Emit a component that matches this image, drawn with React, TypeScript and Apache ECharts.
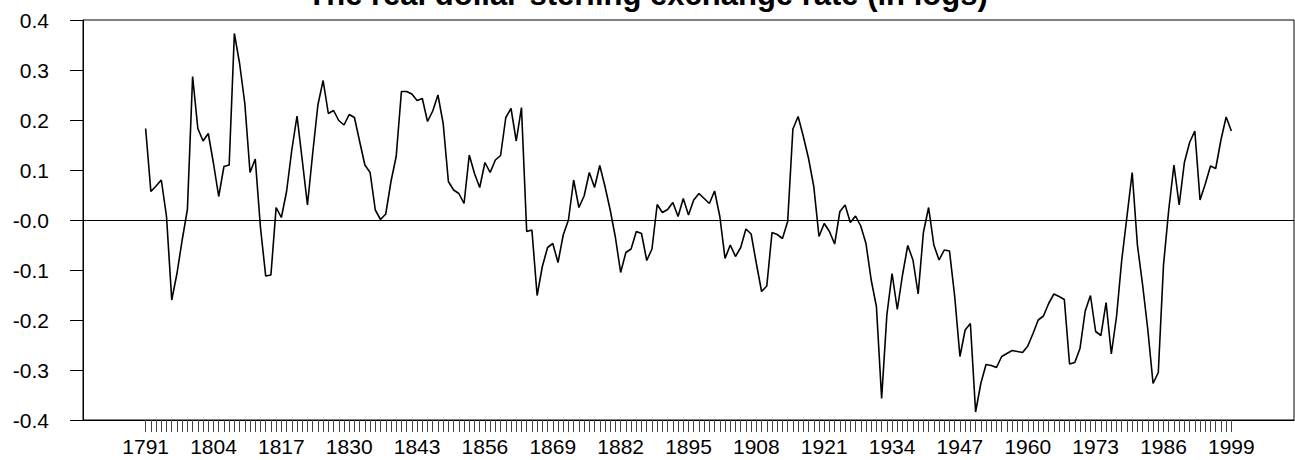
import React, { useEffect, useRef } from "react";
import * as echarts from "echarts";

const firstYear = 1791;
const lastYear = 1999;
const padYears = 12;

const rates: number[] = [
  // 1791-1800
  0.183, 0.057, 0.068, 0.08, 0.007, -0.16, -0.107, -0.04, 0.021, 0.287,
  // 1801-1810
  0.183, 0.158, 0.173, 0.113, 0.047, 0.107, 0.11, 0.373, 0.313, 0.233,
  // 1811-1820
  0.095, 0.122, -0.015, -0.112, -0.11, 0.025, 0.005, 0.057, 0.14, 0.208,
  // 1821-1830
  0.12, 0.03, 0.133, 0.23, 0.279, 0.213, 0.219, 0.199, 0.19, 0.211,
  // 1831-1840
  0.205, 0.157, 0.11, 0.095, 0.02, 0.001, 0.012, 0.077, 0.127, 0.257,
  // 1841-1850
  0.257, 0.252, 0.239, 0.243, 0.197, 0.218, 0.25, 0.193, 0.077, 0.06,
  // 1851-1860
  0.053, 0.033, 0.13, 0.093, 0.065, 0.115, 0.095, 0.12, 0.129, 0.205,
  // 1861-1870
  0.223, 0.158, 0.225, -0.023, -0.02, -0.151, -0.093, -0.055, -0.047, -0.085,
  // 1871-1880
  -0.03, 0.0, 0.08, 0.025, 0.048, 0.095, 0.065, 0.109, 0.067, 0.02,
  // 1881-1890
  -0.035, -0.105, -0.065, -0.058, -0.023, -0.027, -0.081, -0.058, 0.031, 0.015,
  // 1891-1900
  0.021, 0.035, 0.007, 0.043, 0.01, 0.04, 0.053, 0.043, 0.033, 0.058,
  // 1901-1910
  0.007, -0.077, -0.05, -0.073, -0.055, -0.018, -0.028, -0.087, -0.143, -0.132,
  // 1911-1920
  -0.025, -0.029, -0.037, -0.003, 0.182, 0.207, 0.167, 0.123, 0.067, -0.033,
  // 1921-1930
  -0.007, -0.023, -0.048, 0.017, 0.03, -0.005, 0.008, -0.012, -0.047, -0.12,
  // 1931-1940
  -0.173, -0.357, -0.19, -0.107, -0.179, -0.11, -0.051, -0.08, -0.148, -0.025,
  // 1941-1950
  0.025, -0.05, -0.08, -0.06, -0.062, -0.153, -0.273, -0.22, -0.207, -0.384,
  // 1951-1960
  -0.327, -0.289, -0.291, -0.295, -0.273, -0.267, -0.261, -0.263, -0.265, -0.252,
  // 1961-1970
  -0.227, -0.2, -0.192, -0.167, -0.148, -0.153, -0.159, -0.288, -0.285, -0.257,
  // 1971-1980
  -0.182, -0.151, -0.223, -0.231, -0.165, -0.268, -0.193, -0.08, 0.007, 0.095,
  // 1981-1990
  -0.05, -0.13, -0.22, -0.327, -0.305, -0.09, 0.02, 0.11, 0.03, 0.115,
  // 1991-1999
  0.155, 0.178, 0.04, 0.072, 0.108, 0.103, 0.16, 0.206, 0.178,
];

const yTickLabels = ["-0.4", "-0.3", "-0.2", "-0.1", "-0.0", "0.1", "0.2", "0.3", "0.4"];
const labelStep = 13;

const categories: string[] = [];
for (let y = firstYear - padYears; y <= lastYear + padYears; y++) categories.push(String(y));

export default function App() {
  const ref = useRef<HTMLDivElement>(null);
  useEffect(() => {
    if (!ref.current) return;
    const chart = echarts.init(ref.current, null, { renderer: "svg" });
    const seriesData = categories.map((c) => {
      const y = Number(c);
      if (y < firstYear || y > lastYear) return null;
      return rates[y - firstYear];
    });
    const font = "'Liberation Sans', Arial, sans-serif";
    chart.setOption({
      animation: false,
      backgroundColor: "#fff",
      title: {
        text: "The real dollar-sterling exchange rate (in logs)",
        left: "center",
        top: -21,
        padding: 0,
        textStyle: { fontFamily: font, fontSize: 31, fontWeight: "bold", color: "#000" },
      },
      grid: {
        left: 83,
        right: 1,
        top: 20,
        bottom: 40,
        show: true,
        borderColor: "#000",
        borderWidth: 1,
      },
      xAxis: {
        type: "category",
        data: categories,
        boundaryGap: false,
        axisLine: { onZero: false, lineStyle: { color: "#000", width: 1 } },
        axisTick: {
          length: 12,
          lineStyle: { color: "#444", width: 1 },
          interval: (_i: number, v: string) => {
            const y = Number(v);
            return y >= firstYear && y <= lastYear;
          },
        },
        axisLabel: {
          color: "#000",
          fontFamily: font,
          fontSize: 21,
          margin: 16,
          interval: (_i: number, v: string) => {
            const y = Number(v);
            return y >= firstYear && y <= lastYear && (y - firstYear) % labelStep === 0;
          },
        },
        splitLine: { show: false },
      },
      yAxis: {
        type: "value",
        min: -0.4,
        max: 0.4,
        interval: 0.1,
        axisLine: { show: true, lineStyle: { color: "#000", width: 1 } },
        axisTick: { show: true, length: 13, lineStyle: { color: "#000" } },
        axisLabel: {
          color: "#000",
          fontFamily: font,
          fontSize: 21,
          margin: 34,
          formatter: (v: number) => yTickLabels[Math.round((v + 0.4) * 10)] ?? "",
        },
        splitLine: { show: false },
      },
      series: [
        {
          type: "line",
          data: seriesData,
          symbol: "none",
          lineStyle: { color: "#000", width: 1.6 },
          markLine: {
            silent: true,
            symbol: "none",
            label: { show: false },
            lineStyle: { color: "#000", width: 1, type: "solid" },
            data: [{ yAxis: 0 }],
          },
        },
      ],
    });
    return () => chart.dispose();
  }, []);
  return <div ref={ref} style={{ position: "fixed", left: 0, top: 0, width: 1295, height: 460 }} />;
}
